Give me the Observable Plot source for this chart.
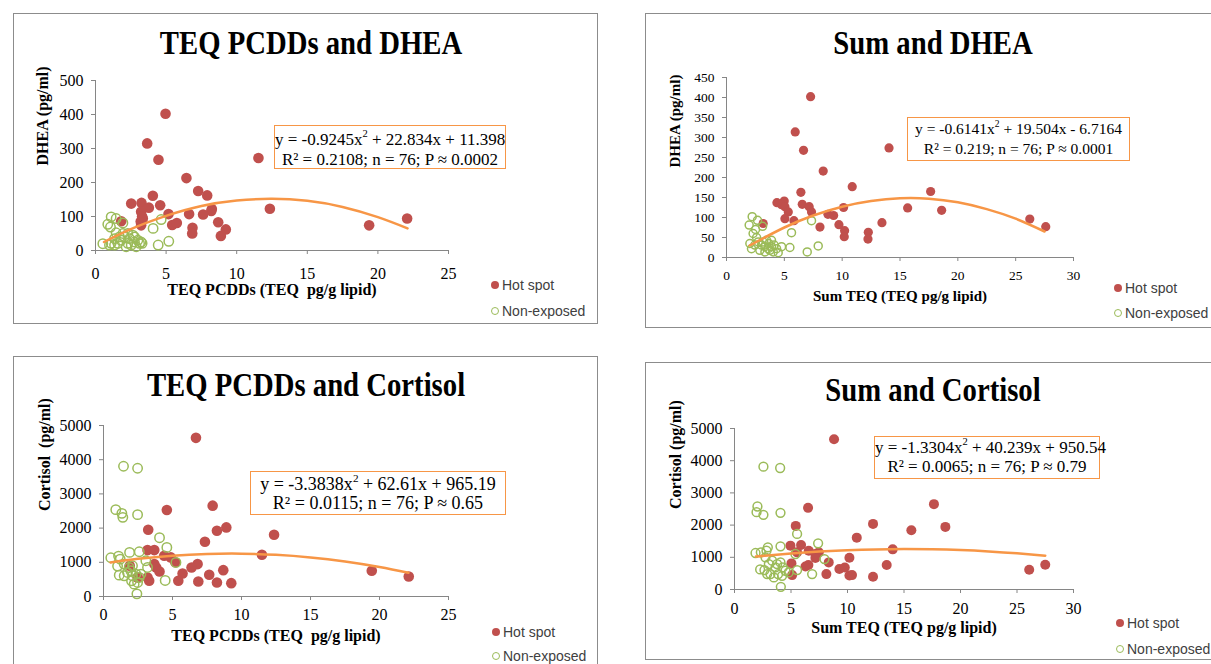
<!DOCTYPE html>
<html><head><meta charset="utf-8">
<script src="https://cdn.jsdelivr.net/npm/d3@7"></script>
<script src="https://cdn.jsdelivr.net/npm/@observablehq/plot@0.6"></script>
<style>
body{margin:0;background:#fff;}
#root{position:relative;width:1211px;height:664px;overflow:hidden;background:#fff;}
.panel{position:absolute;border:1.5px solid #8c8c8c;box-sizing:border-box;background:#fff;}
.title{position:absolute;font-family:"Liberation Serif","Times New Roman",serif;font-weight:bold;font-size:33px;line-height:33px;white-space:nowrap;transform:translateX(-50%) scaleX(0.87);color:#000;}
.eq{position:absolute;box-sizing:border-box;border:1.5px solid #F79646;background:#fff;font-family:"Liberation Serif","Times New Roman",serif;text-align:center;white-space:nowrap;color:#000;}
.eq sup{font-size:0.62em;line-height:0;position:relative;top:-0.1em;vertical-align:super;}
.leg{position:absolute;font-family:"Liberation Sans",Arial,sans-serif;font-size:14px;color:#404040;line-height:18px;white-space:nowrap;display:flex;align-items:center;}
.mk{display:inline-block;width:8px;height:8px;border-radius:50%;box-sizing:border-box;margin-right:3px;}
.plot{position:absolute;left:0;top:0;}
</style></head>
<body><div id="root"></div>
<script>
// ---------- data ----------
const xTicks25 = [0, 5, 10, 15, 20, 25];
const xTicks30 = [0, 5, 10, 15, 20, 25, 30];
const yTicksDhea1 = [0, 100, 200, 300, 400, 500];
const yTicksDhea2 = [0, 50, 100, 150, 200, 250, 300, 350, 400, 450];
const yTicksCort = [0, 1000, 2000, 3000, 4000, 5000];

const titles = ["TEQ PCDDs and DHEA", "Sum and DHEA", "TEQ PCDDs and Cortisol", "Sum and Cortisol"];
const xLabels = ["TEQ PCDDs (TEQ  pg/g lipid)", "Sum TEQ (TEQ pg/g lipid)", "TEQ PCDDs (TEQ  pg/g lipid)", "Sum TEQ (TEQ pg/g lipid)"];
const yLabels = ["DHEA (pg/ml)", "DHEA (pg/ml)", "Cortisol  (pg/ml)", "Cortisol (pg/ml)"];
const seriesNames = ["Hot spot", "Non-exposed"];
const eqLine1 = [["-0.9245", "22.834", "+ 11.398"], ["-0.6141", "19.504", "- 6.7164"], ["-3.3838", "62.61", "+ 965.19"], ["-1.3304", "40.239", "+ 950.54"]];
const eqLine2 = ["R² = 0.2108; n = 76; P ≈ 0.0002", "R² = 0.219; n = 76; P ≈ 0.0001", "R² = 0.0115; n = 76; P ≈ 0.65", "R² = 0.0065; n = 76; P ≈ 0.79"];

// Panel 1: TEQ PCDDs vs DHEA
const p1Hot = [[4.96,402],[3.66,315],[4.46,267],[11.54,272],[6.44,213],[7.27,175],[7.91,162],[4.06,161],[2.53,138],[3.26,140],[3.78,126],[4.58,133],[12.35,123],[8.24,122],[8.2,116],[3.23,114],[5.17,107],[6.63,107],[7.62,106],[3.35,94],[22.07,94],[19.38,74],[1.82,86],[3.23,74],[5.43,75],[5.76,81],[8.69,83],[6.87,67],[6.85,50],[9.23,62],[8.88,43],[3.2,85],[3.3,100]];
const p1Non = [[0.52,20],[0.87,77],[1.11,99],[1.06,69],[1.46,94],[1.94,81],[4.65,91],[4.08,65],[4.44,16],[5.19,27],[1.35,35],[1.11,21],[1.58,21],[1.82,30],[2.05,40],[2.29,21],[2.41,35],[2.64,45],[2.76,25],[3.0,30],[3.12,21],[3.23,25],[2.88,11],[2.17,11],[2.53,16],[1.35,16],[0.99,16],[1.7,40],[1.94,50],[2.29,50],[1.46,52],[2.76,40],[3.3,21]];
const p1Trend = [[0.6,25],[2.5,63],[5,102],[7.5,131],[10,147],[12.5,152],[15,146],[17.5,128],[20,98],[22.1,65]];

// Panel 2: Sum TEQ vs DHEA
const p2Hot = [[7.27,402],[5.94,314],[6.66,268],[14.05,274],[8.36,216],[10.87,177],[6.43,163],[17.65,165],[4.36,137],[4.99,141],[4.76,132],[6.55,133],[7.15,127],[5.05,127],[5.34,114],[7.35,114],[10.12,125],[15.66,124],[18.6,118],[8.77,108],[9.26,105],[5.05,97],[5.83,92],[8.08,76],[9.72,82],[10.21,67],[10.18,52],[12.26,63],[12.23,46],[13.44,87],[26.22,96],[27.6,77],[3.17,85]];
const p2Non = [[2.22,102],[1.96,81],[2.68,93],[2.51,70],[3.12,78],[2.02,35],[2.16,22],[7.35,92],[5.62,62],[5.48,25],[6.98,14],[7.93,29],[2.74,39],[3.03,31],[3.32,27],[3.46,43],[3.66,35],[3.89,27],[4.12,31],[4.33,22],[3.32,14],[2.88,18],[3.75,18],[4.47,12],[4.04,14],[3.6,22],[3.17,39],[3.89,43],[2.45,31],[4.76,27],[2.3,60],[2.6,50]];
const p2Trend = [[2,30],[5,75],[7.5,105],[10,127],[12.5,141],[15,148],[17.5,147],[20,138],[22.5,121],[25,97],[27.5,65]];

// Panel 3: TEQ PCDDs vs Cortisol
const p3Hot = [[6.7,4639],[4.59,2529],[7.91,2656],[8.9,2021],[8.22,1924],[3.24,1953],[12.36,1807],[7.35,1602],[11.48,1221],[3.19,1357],[3.68,1357],[4.4,1191],[4.88,1143],[3.68,947],[3.82,850],[4.06,732],[6.82,947],[6.38,850],[5.73,674],[7.66,635],[8.68,771],[3.19,557],[3.31,459],[5.42,459],[6.87,440],[8.22,410],[9.26,391],[19.44,752],[22.12,586],[2.47,557],[5.2,1000],[1.9,900]];
const p3Non = [[1.45,3809],[2.47,3750],[0.89,2539],[1.33,2432],[1.4,2314],[2.47,2393],[4.06,1719],[4.59,1436],[1.89,1289],[2.59,1309],[0.53,1133],[1.09,1182],[1.21,1094],[4.47,469],[2.42,78],[5.25,996],[1.02,889],[1.14,625],[1.5,605],[3.07,1045],[3.19,850],[1.86,850],[1.98,752],[2.1,605],[2.03,459],[2.22,361],[2.47,410],[2.59,557],[2.35,654],[1.74,703],[2.1,898],[2.71,654],[1.5,947]];
const p3Trend = [[0.5,996],[2.5,1101],[5,1194],[7.5,1244],[10,1253],[12.5,1219],[15,1143],[17.5,1025],[20,864],[22.1,696]];

// Panel 4: Sum TEQ vs Cortisol
const p4Hot = [[8.81,4667],[17.65,2651],[6.51,2536],[12.26,2037],[18.66,1944],[5.42,1975],[15.65,1840],[10.82,1611],[4.95,1362],[5.89,1383],[14.0,1247],[5.54,1154],[6.57,1206],[7.16,1102],[7.46,1154],[10.17,988],[7.16,977],[8.34,842],[5.04,811],[6.28,717],[6.54,759],[9.28,634],[9.76,686],[13.47,759],[8.13,478],[10.17,437],[10.4,447],[12.26,395],[5.1,447],[26.08,613],[27.5,769]];
const p4Non = [[2.56,3815],[4.04,3773],[2.03,2578],[1.95,2401],[2.56,2318],[4.07,2380],[5.54,1726],[7.4,1435],[2.95,1310],[4.07,1341],[1.86,1133],[2.33,1154],[2.83,1206],[7.96,946],[5.39,1102],[6.87,478],[4.1,83],[2.27,624],[2.65,603],[3.04,790],[3.33,894],[3.63,686],[3.18,478],[3.48,374],[3.86,478],[4.21,426],[4.51,582],[3.77,790],[4.07,842],[4.27,686],[4.8,530],[5.54,603],[2.89,478],[2.74,998]];
const p4Trend = [[1.9,1022],[5,1119],[7.5,1178],[10,1220],[12.5,1246],[15,1255],[17.5,1247],[20,1223],[22.5,1182],[25,1125],[27.5,1051]];

// ---------- styles ----------
const RED = "#C0504D", GREEN = "#9BBB59", ORANGE = "#F79646", AXIS = "#868686";
const W = 1211, H = 664;

const panels = [
  {box:[13,13,585,311], title:[311,27.4], frame:[95,448,80,250], xDomain:[0,25], yDomain:[0,500], xTicks:xTicks25, yTicks:yTicksDhea1, hot:p1Hot, non:p1Non, trend:p1Trend, r:5.3, tick:16, xPad:13, xLabDy:44, yLabDx:-53, lab:16,
   eq:[274,125,232,44,17,20,3.5], leg:[495,285,311]},
  {box:[645,13,620,315], title:[933,27.4], frame:[726,1073,77,257], xDomain:[0,30], yDomain:[0,450], xTicks:xTicks30, yTicks:yTicksDhea2, hot:p2Hot, non:p2Non, trend:p2Trend, r:4.6, tick:13.5, xPad:9, xLabDy:43, yLabDx:-51, lab:15,
   eq:[907,117,223,44,15.5,20,1], leg:[1118,288,313]},
  {box:[13,356,585,330], title:[306,369.4], frame:[103,448,425,596], xDomain:[0,25], yDomain:[0,5000], xTicks:xTicks25, yTicks:yTicksCort, hot:p3Hot, non:p3Non, trend:p3Trend, r:5.3, tick:16, xPad:8, xLabDy:44, yLabDx:-59, lab:16,
   eq:[250,471,256,44,18,19,3], leg:[496,632,656]},
  {box:[645,362,620,298], title:[933,374.4], frame:[734,1073,428,589], xDomain:[0,30], yDomain:[0,5000], xTicks:xTicks30, yTicks:yTicksCort, hot:p4Hot, non:p4Non, trend:p4Trend, r:5, tick:16, xPad:9, xLabDy:43, yLabDx:-59, lab:16,
   eq:[874,436,226,43,17,19,1], leg:[1120,623,649]}
];

const root = document.getElementById("root");
const plain = d => String(d);

panels.forEach((p, i) => {
  const box = document.createElement("div");
  box.className = "panel";
  Object.assign(box.style, {left: p.box[0]+"px", top: p.box[1]+"px", width: p.box[2]+"px", height: p.box[3]+"px"});
  root.appendChild(box);
});

panels.forEach((p, i) => {
  const [fx0, fx1, fy0, fy1] = p.frame;
  const chart = Plot.plot({
    width: W, height: H,
    marginLeft: fx0, marginRight: W - fx1, marginTop: fy0, marginBottom: H - fy1,
    style: {fontFamily: "'Liberation Serif','Times New Roman',serif", fontSize: p.tick + "px", color: "#000", background: "transparent", overflow: "visible"},
    x: {domain: p.xDomain},
    y: {domain: p.yDomain},
    marks: [
      Plot.axisX({ticks: p.xTicks, tickFormat: plain, tickSize: 4, tickPadding: p.xPad, stroke: AXIS, fill: "#000", label: null}),
      Plot.axisY({ticks: p.yTicks, tickFormat: plain, tickSize: 4, tickPadding: 8, stroke: AXIS, fill: "#000", label: null}),
      Plot.ruleY([p.yDomain[0]], {stroke: AXIS, strokeWidth: 1}),
      Plot.ruleX([p.xDomain[0]], {stroke: AXIS, strokeWidth: 1}),
      Plot.dot(p.hot, {x: d => d[0], y: d => d[1], r: p.r, fill: RED, stroke: "none"}),
      Plot.dot(p.non, {x: d => d[0], y: d => d[1], r: p.r - 0.6, fill: "none", stroke: GREEN, strokeWidth: 1.5}),
      Plot.line(p.trend, {x: d => d[0], y: d => d[1], stroke: ORANGE, strokeWidth: 2.5, curve: "natural"}),
      Plot.text([xLabels[i]], {text: d => d, frameAnchor: "bottom", dy: p.xLabDy, fontWeight: "bold", fontSize: p.lab, fill: "#000"}),
      Plot.text([yLabels[i]], {text: d => d, frameAnchor: "left", dx: p.yLabDx, rotate: -90, fontWeight: "bold", fontSize: p.lab, fill: "#000"})
    ]
  });
  chart.classList.add("plot");
  root.appendChild(chart);

  // title
  const t = document.createElement("div");
  t.className = "title";
  t.textContent = titles[i];
  t.style.left = p.title[0] + "px";
  t.style.top = p.title[1] + "px";
  root.appendChild(t);

  // equation box
  const [ex, ey, ew, eh, efs, elh, epad] = p.eq;
  const e = document.createElement("div");
  e.className = "eq";
  Object.assign(e.style, {left: ex+"px", top: ey+"px", width: ew+"px", height: eh+"px", fontSize: efs+"px", lineHeight: elh+"px", paddingTop: epad+"px"});
  const c = eqLine1[i];
  e.innerHTML = `y = ${c[0]}x<sup>2</sup> + ${c[1]}x ${c[2]}<br>${eqLine2[i]}`;
  root.appendChild(e);

  // legend
  const [lx, ly1, ly2] = p.leg;
  [[ly1, "hot"], [ly2, "non"]].forEach(([ly, kind], k) => {
    const l = document.createElement("div");
    l.className = "leg";
    l.style.left = (lx - 4) + "px";
    l.style.top = (ly - 9) + "px";
    const m = document.createElement("span");
    m.className = "mk";
    if (kind === "hot") m.style.background = RED;
    else { m.style.border = "1.2px solid " + GREEN; }
    l.appendChild(m);
    l.appendChild(document.createTextNode(seriesNames[k]));
    root.appendChild(l);
  });
});
</script>
</body></html>
